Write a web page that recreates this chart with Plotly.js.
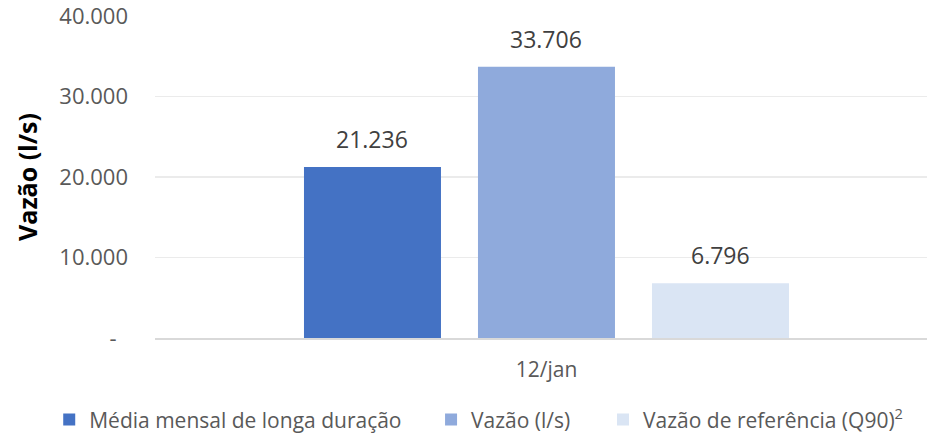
<!DOCTYPE html>
<html>
<head>
<meta charset="utf-8">
<script src="https://cdn.plot.ly/plotly-3.0.1.min.js"></script>
<style>html,body{margin:0;padding:0;background:#fff;}#chart{width:927px;height:435px;}</style>
</head>
<body>
<div id="chart"></div>
<script>
const categories = ['12/jan'];
const seriesNames = ['Média mensal de longa duração', 'Vazão (l/s)', 'Vazão de referência (Q90)<sup>2</sup>'];
const seriesValues = [[21236], [33706], [6796]];
const seriesColors = ['#4472C4', '#8FAADC', '#DAE5F4'];
const yTickVals = [0, 10000, 20000, 30000, 40000];
const yTickText = ['-\u00a0\u00a0', '10.000', '20.000', '30.000', '40.000'];

function fmt(v) {
  return String(Math.round(v)).replace(/\B(?=(\d{3})+(?!\d))/g, '.');
}

const legendIds = ['legend', 'legend2', 'legend3'];
const legendX = [0.0531, 0.465, 0.6505];

const traces = seriesNames.map((name, i) => ({
  type: 'bar',
  name: name,
  x: categories,
  y: seriesValues[i],
  marker: {color: seriesColors[i]},
  legend: legendIds[i],
  hoverinfo: 'skip'
}));

const slotPx = 174;
const annotations = [];
seriesValues.forEach((vals, i) => {
  vals.forEach((v, j) => {
    annotations.push({
      x: categories[j], y: v, xref: 'x', yref: 'y',
      text: fmt(v), showarrow: false,
      yanchor: 'bottom', yshift: 10,
      xshift: (i - (seriesValues.length - 1) / 2) * slotPx,
      font: {family: 'Open Sans, sans-serif', size: 23, color: '#404040'}
    });
  });
});

const layout = {
  width: 927, height: 435,
  margin: {l: 155, r: 0, t: 16, b: 97},
  paper_bgcolor: '#fff', plot_bgcolor: '#fff',
  barmode: 'group', bargap: 0.3333, bargroupgap: 0.2126,
  showlegend: true,
  font: {family: 'Open Sans, sans-serif', color: '#595959'},
  xaxis: {
    type: 'category', range: [-0.5, 0.486],
    showgrid: false, zeroline: false,
    showline: true, linecolor: '#D9D9D9', linewidth: 1.5,
    ticks: '', ticklabelstandoff: 12,
    tickfont: {size: 21, color: '#595959'}, fixedrange: true
  },
  yaxis: {
    range: [0, 40000],
    tickvals: yTickVals, ticktext: yTickText,
    showgrid: true, gridcolor: '#EBEBEB', gridwidth: 1.5,
    zeroline: false, showline: false, ticks: '',
    ticklabelstandoff: 26, ticklabeloverflow: 'allow',
    tickfont: {size: 22, color: '#595959'},
    title: {text: 'Vazão (l/s)', font: {size: 25, color: '#000', weight: 'bold'}, standoff: 14},
    fixedrange: true
  },
  annotations: annotations
};

legendIds.forEach((id, i) => {
  layout[id] = {
    orientation: 'h', xref: 'container', yref: 'container',
    x: legendX[i], xanchor: 'left', y: 0.035, yanchor: 'middle',
    font: {size: 21, color: '#595959'},
    bgcolor: 'rgba(0,0,0,0)'
  };
});

Plotly.newPlot('chart', traces, layout, {displayModeBar: false, staticPlot: true});
</script>
</body>
</html>
